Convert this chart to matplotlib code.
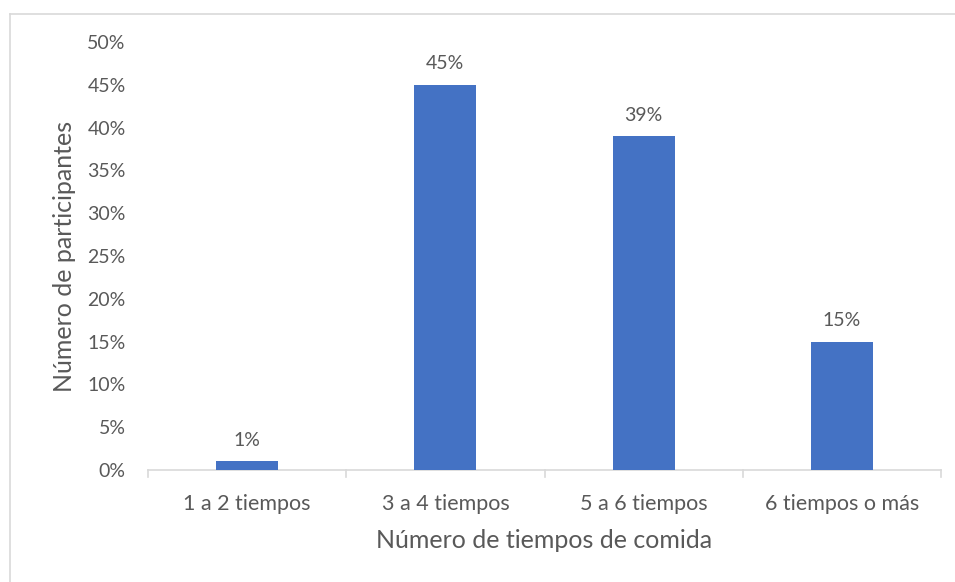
import matplotlib
matplotlib.use("Agg")
import matplotlib.pyplot as plt
from matplotlib.lines import Line2D
from matplotlib.ticker import PercentFormatter

categories = ["1 a 2 tiempos", "3 a 4 tiempos", "5 a 6 tiempos", "6 tiempos o más"]
values = [1, 45, 39, 15]
labels = ["1%", "45%", "39%", "15%"]
yticks = [0, 5, 10, 15, 20, 25, 30, 35, 40, 45, 50]

plt.rcParams['font.family'] = ['Lato', 'DejaVu Sans']
txt = '#595959'

fig = plt.figure(figsize=(9.55, 5.82), dpi=100)
W, H = 955, 582
ax = fig.add_axes([148 / W, 1 - 470 / H, (941 - 148) / W, (470 - 42) / H])

x = list(range(len(categories)))
bars = ax.bar(x, values, width=0.313, color='#4472C4', zorder=3)
ax.set_xlim(-0.5, len(categories) - 0.5)
ax.set_ylim(0, 50)
ax.set_yticks(yticks)
ax.yaxis.set_major_formatter(PercentFormatter(decimals=0))
ax.set_xticks(x)
ax.set_xticklabels(categories)
ax.tick_params(axis='y', length=0, pad=16, labelsize=14, labelcolor=txt)
ax.tick_params(axis='x', length=0, pad=17, labelsize=15.5, labelcolor=txt)
for s in ['top', 'right', 'left']:
    ax.spines[s].set_visible(False)
ax.spines['bottom'].set_color('#D9D9D9')
ax.spines['bottom'].set_linewidth(1.2)

# category boundary ticks
for b in [-0.5, 0.5, 1.5, 2.5, 3.5]:
    ax.plot([b, b], [0, -0.8], color='#D9D9D9', lw=1.2, clip_on=False, zorder=2)

for rect, lab in zip(bars, labels):
    ax.annotate(lab, (rect.get_x() + rect.get_width() / 2, rect.get_height()),
                xytext=(0, 9), textcoords='offset points', ha='center', va='bottom',
                fontsize=14, color=txt)

ax.set_xlabel("Número de tiempos de comida", fontsize=18, color=txt, labelpad=11)
ax.set_ylabel("Número de participantes", fontsize=18, color=txt, labelpad=8)

# outer chart border (left and top)
fig.add_artist(Line2D([10 / W, 10 / W], [0, 1 - 14 / H], transform=fig.transFigure, color='#D9D9D9', lw=1.2))
fig.add_artist(Line2D([10 / W, 1], [1 - 14 / H, 1 - 14 / H], transform=fig.transFigure, color='#D9D9D9', lw=1.2))

fig.savefig("out.png", dpi=100)
